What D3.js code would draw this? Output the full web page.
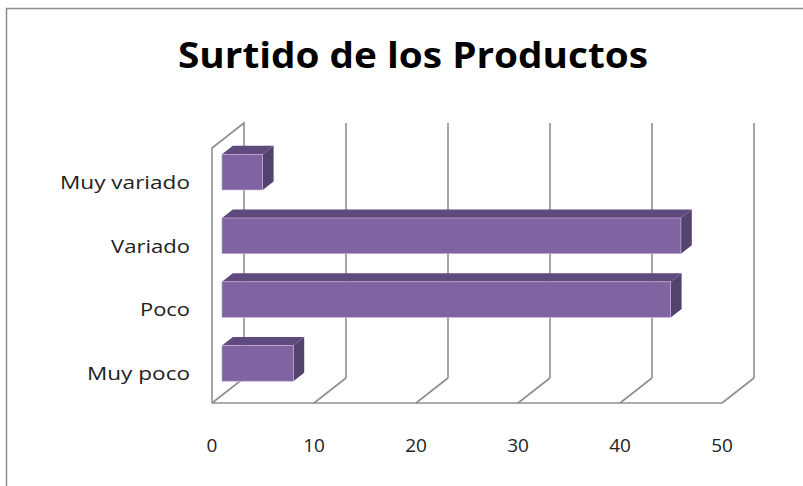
<!DOCTYPE html>
<html>
<head>
<meta charset="utf-8">
<script src="https://cdn.jsdelivr.net/npm/d3@7"></script>
<style>
  body { margin: 0; background: #fff; }
  text { font-family: "Open Sans", sans-serif; }
</style>
</head>
<body>
<script>
// data
var categories = ["Muy variado", "Variado", "Poco", "Muy poco"];
var values = [4, 45, 44, 7];
var ticks = [0, 10, 20, 30, 40, 50];
var title = "Surtido de los Productos";

var width = 803, height = 486;
var depthX = 32, depthY = -25;   // offset of the back wall
var barZ0 = 0.31, barZ1 = 0.65;  // bar depth within the box

var svg = d3.select("body").append("svg")
    .attr("width", width)
    .attr("height", height);

svg.append("rect")
    .attr("x", 6.5).attr("y", 8.5)
    .attr("width", 820).attr("height", 500)
    .attr("fill", "#fff")
    .attr("stroke", "#8c8c8c")
    .attr("stroke-width", 1.5);

svg.append("text")
    .attr("x", 413).attr("y", 68)
    .attr("text-anchor", "middle")
    .attr("font-size", 36)
    .attr("font-weight", "bold")
    .attr("textLength", 470)
    .attr("lengthAdjust", "spacingAndGlyphs")
    .text(title);

var xScale = d3.scaleLinear().domain([0, 50]).range([212, 722]);
var yScale = d3.scaleBand().domain(categories).range([148, 403])
    .paddingInner(0.44).paddingOuter(0.22);

var floorY = 403, topY = 148;

// project a point (x on front plane, y on front plane, depth z 0..1)
function px(x, z) { return x + depthX * z; }
function py(y, z) { return y + depthY * z; }

var grid = svg.append("g")
    .attr("fill", "none")
    .attr("stroke", "#8f8f8f")
    .attr("stroke-width", 1.6);

// left wall
grid.append("path")
    .attr("d", "M" + xScale(0) + "," + floorY +
               "L" + xScale(0) + "," + topY +
               "L" + px(xScale(0), 1) + "," + py(topY, 1) +
               "L" + px(xScale(0), 1) + "," + py(floorY, 1));

// floor front edge
grid.append("line")
    .attr("x1", xScale(0)).attr("x2", xScale(50))
    .attr("y1", floorY).attr("y2", floorY);

// floor diagonals and back wall gridlines
ticks.forEach(function(t) {
  grid.append("line")
      .attr("x1", xScale(t)).attr("y1", floorY)
      .attr("x2", px(xScale(t), 1)).attr("y2", py(floorY, 1));
  if (t > 0) {
    grid.append("line")
        .attr("x1", px(xScale(t), 1)).attr("y1", py(floorY, 1))
        .attr("x2", px(xScale(t), 1)).attr("y2", py(topY, 1));
  }
});

// 3d bars
var bars = svg.append("g");
categories.forEach(function(c, i) {
  var x0 = px(xScale(0), barZ0), x1 = px(xScale(values[i]), barZ0);
  var y0 = py(yScale(c), barZ0), y1 = y0 + yScale.bandwidth();
  var dx = depthX * (barZ1 - barZ0), dy = depthY * (barZ1 - barZ0);
  // top face
  bars.append("path")
      .attr("d", "M" + x0 + "," + y0 + "L" + (x0 + dx) + "," + (y0 + dy) +
                 "L" + (x1 + dx) + "," + (y0 + dy) + "L" + x1 + "," + y0 + "Z")
      .attr("fill", "#5f4a7d");
  // side face
  bars.append("path")
      .attr("d", "M" + x1 + "," + y0 + "L" + (x1 + dx) + "," + (y0 + dy) +
                 "L" + (x1 + dx) + "," + (y1 + dy) + "L" + x1 + "," + y1 + "Z")
      .attr("fill", "#55436f");
  // front face
  bars.append("rect")
      .attr("x", x0).attr("y", y0)
      .attr("width", x1 - x0).attr("height", y1 - y0)
      .attr("fill", "#8064a2")
      .attr("stroke", "#c9bcdb")
      .attr("stroke-width", 0.6);
});

// category labels
var labelWidths = {"Muy variado": 130, "Variado": 79, "Poco": 50, "Muy poco": 103};
svg.append("g").selectAll("text")
    .data(categories)
    .enter().append("text")
    .attr("x", 190)
    .attr("y", function(d) { return yScale(d) + yScale.bandwidth() / 2 + 9; })
    .attr("text-anchor", "end")
    .attr("font-size", 19)
    .attr("fill", "#222")
    .attr("textLength", function(d) { return labelWidths[d]; })
    .attr("lengthAdjust", "spacingAndGlyphs")
    .text(function(d) { return d; });

// value axis labels
svg.append("g").selectAll("text")
    .data(ticks)
    .enter().append("text")
    .attr("x", function(d) { return xScale(d); })
    .attr("y", 452)
    .attr("text-anchor", "middle")
    .attr("font-size", 19)
    .attr("fill", "#222")
    .text(function(d) { return d; });
</script>
</body>
</html>
